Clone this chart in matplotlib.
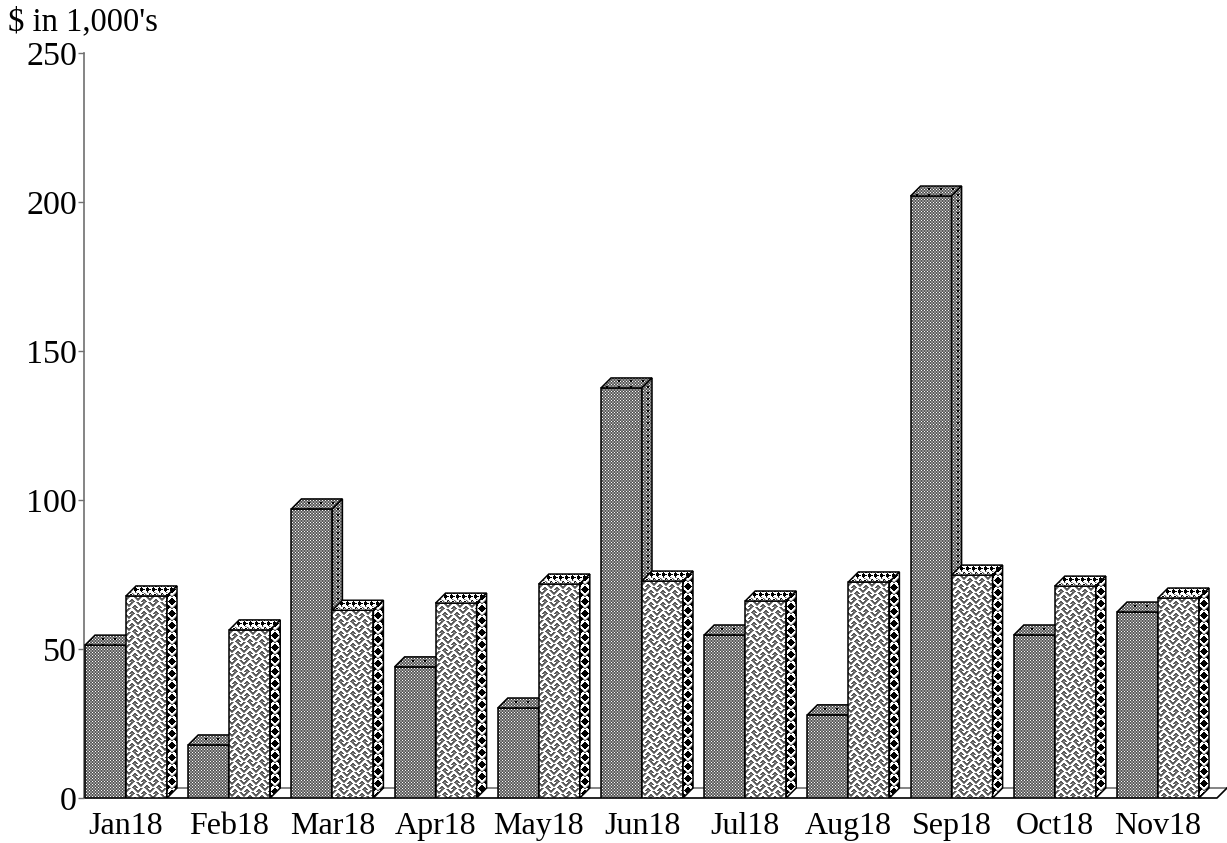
import matplotlib
matplotlib.use('Agg')
import matplotlib.pyplot as plt
import numpy as np
from matplotlib.patches import Polygon

months = ['Jan18', 'Feb18', 'Mar18', 'Apr18', 'May18', 'Jun18', 'Jul18', 'Aug18', 'Sep18', 'Oct18', 'Nov18']
dark_values = [51.3, 17.8, 97, 44, 30.2, 137.6, 54.7, 27.9, 202, 54.7, 62.4]
light_values = [67.8, 56.4, 63, 65.4, 71.8, 72.8, 66.1, 72.5, 74.8, 71.1, 67.1]
y_ticks = [0, 50, 100, 150, 200, 250]

plt.rcParams['font.family'] = ['Liberation Serif', 'DejaVu Serif']

W, H = 1227, 843
fig = plt.figure(figsize=(W / 100, H / 100), dpi=100)
ax = fig.add_axes([84 / W, (H - 798) / H, (W - 84) / W, 745 / H])

# one group is 103.2 px wide, one value unit is 2.98 px
x_left = -42 / 103.2
x_right = (W - 126) / 103.2
ax.set_xlim(x_left, x_right)
ax.set_ylim(0, 250)
bar_w = 41 / 103.2
dx = 10 / 103.2
dy = 10 / 2.98


def tile(rows):
    # pattern cells as text: # black, x dark gray, + gray, - light gray, . white
    vals = {'#': 0.0, 'x': 0.35, '+': 0.55, '-': 0.75, '.': 1.0}
    a = np.array([[vals[c] for c in r] for r in rows])
    ny = 745 // a.shape[0] + 1
    nx = (W - 84) // a.shape[1] + 1
    return np.tile(a, (ny, nx))[:745, :W - 84]


dark_front = tile(['+x+',
                   'x.x',
                   '+x+'])
dark_side = tile(['+x++x++x++x+',
                  'x.xx.xx.xx.x',
                  '+x++x++x++x+',
                  '+x++x##x++x+',
                  'x.xx.##.xx.x',
                  '+x++x++x++x+'])
# weave: strokes change direction every 6 px, second half shifted by 3
up = ['..xx+.',
      '.xx+..',
      'xx+...',
      'x+...x',
      '+...xx',
      '...xx+']
down = ['.+xx..',
        '..+xx.',
        '...+xx',
        'x...+x',
        'xx...+',
        '+xx...']
first = [a + b for a, b in zip(up, down)]
second = [(b + a)[3:] + (b + a)[:3] for a, b in zip(up, down)]
light_front = tile(first + second)
light_top = tile(['.-x..##-x..#',
                  '...#.....#..',
                  '..###...###.',
                  '#.#####.####',
                  '..###...###.',
                  '...#.....#..',
                  '....x-...x-.',
                  '#.....x-...x',
                  '-x..##.x-..#',
                  '..-x.....x-.'])
light_side = tile(['#...##...#',
                   '...####...',
                   '..######..',
                   '.########.',
                   '..######..',
                   '...####...',
                   '#...##..-x',
                   '##-....-x#',
                   '###-..-x##',
                   '###x--x###',
                   '##..xx..##',
                   '#........#'])


def face(points, texture):
    # start the pattern at the corner of this face so every bar looks alike
    px = int(round((min(p[0] for p in points) - x_left) * 103.2))
    py = int(round((250 - max(p[1] for p in points)) * 2.98))
    texture = np.roll(texture, (py, px), axis=(0, 1))
    poly = Polygon(points, closed=True, facecolor='none', edgecolor='none', zorder=3)
    ax.add_patch(poly)
    im = ax.imshow(texture, cmap='gray', vmin=0, vmax=1, extent=(x_left, x_right, 0, 250),
                   origin='upper', aspect='auto', interpolation='nearest', zorder=3)
    im.set_clip_path(poly)
    # outline on top of the pattern
    ax.add_patch(Polygon(points, closed=True, facecolor='none', edgecolor='black', lw=1.1, zorder=3))


def box(x0, value, front, top, side):
    x1 = x0 + bar_w
    face([(x0, 0), (x1, 0), (x1, value), (x0, value)], front)
    face([(x0, value), (x1, value), (x1 + dx, value + dy), (x0 + dx, value + dy)], top)
    face([(x1, 0), (x1 + dx, dy), (x1 + dx, value + dy), (x1, value)], side)


# floor of the chart
ax.add_patch(Polygon([(x_left, 0), (x_right - dx, 0), (x_right, dy), (x_left + dx, dy)], closed=True,
                     facecolor='white', edgecolor='none', zorder=1, clip_on=False))
ax.plot([x_left + dx, x_right], [dy, dy], color='#707070', lw=1.2, zorder=1)
ax.plot([x_left, x_right - dx, x_right], [0, 0, dy], color='black', lw=1.2, zorder=1, clip_on=False)

for i in range(len(months)):
    box(i - bar_w, dark_values[i], dark_front, dark_side, dark_side)
    box(i, light_values[i], light_front, light_top, light_side)

for s in ['top', 'right', 'bottom']:
    ax.spines[s].set_visible(False)
ax.spines['left'].set_color('#707070')
ax.spines['left'].set_linewidth(1.2)
ax.set_yticks(y_ticks)
ax.set_xticks(range(len(months)))
ax.set_xticklabels(months)
ax.tick_params(axis='y', length=4, width=1, color='#707070', labelsize=24.5, pad=1)
ax.tick_params(axis='x', length=0, labelsize=23, pad=10)

fig.text(8 / W, 1 - 30 / H, "$ in 1,000's", fontsize=23.5, color='black', parse_math=False)

fig.savefig('out.png', dpi=100, facecolor='white')
